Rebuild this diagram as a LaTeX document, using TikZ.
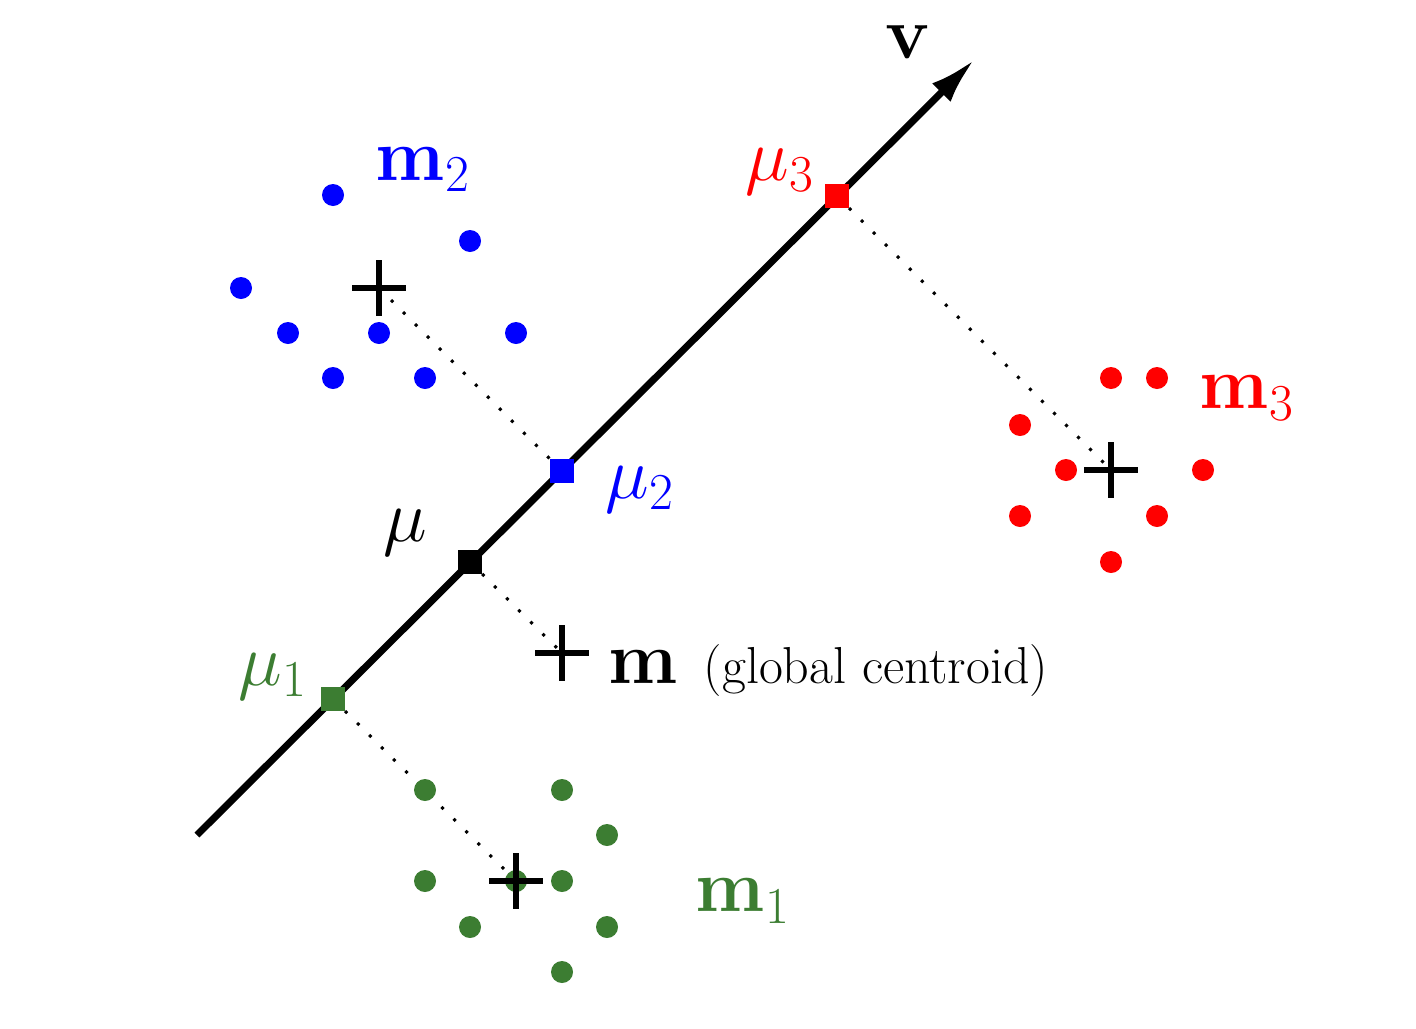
\RequirePackage{fix-cm}
\documentclass[tikz,border=0pt]{standalone}
\usepackage{amsmath}
\usetikzlibrary{arrows.meta}
\definecolor{cblue}{RGB}{0,0,255}
\definecolor{cred}{RGB}{255,0,0}
\definecolor{cgreen}{RGB}{60,125,50}
\tikzset{
  dot/.style={circle,fill=#1,inner sep=0pt,minimum size=11pt},
  sq/.style={rectangle,fill=#1,inner sep=0pt,minimum size=12pt},
  proj/.style={line width=1.5pt,dash pattern=on 1.5pt off 7pt},
  axis/.style={line width=3.5pt,-{Latex[length=23pt,width=13pt]}},
  lab/.style={inner sep=0pt,font=\fontsize{37}{42}\selectfont},
  pics/plus/.style={code={\draw[line width=3.2pt] (-27,0) -- (27,0) (0,-28) -- (0,28);}}
}
\begin{document}
\begin{tikzpicture}[x=0.5pt,y=-0.5pt]
\useasboundingbox (0,0) rectangle (1416,1028);
% axis
\coordinate (a0) at (197,835);
\coordinate (a1) at (974,60);
\draw[axis] (a0) -- (a1);
% centroids (plus)
\coordinate (c1) at (516,881);
\coordinate (c2) at (379,288);
\coordinate (c3) at (1111,470);
\coordinate (cm) at (562,653);
% projections positions
\coordinate (p1) at (333,699);
\coordinate (pm) at (470,562);
\coordinate (p2) at (562,471);
\coordinate (p3) at (837,196);
% dotted projection lines
\draw[proj] (c2) -- (p2);
\draw[proj] (p3) -- (c3);
\draw[proj] (pm) -- (cm);
\draw[proj] (p1) -- (c1);
% blue cluster
\foreach \i/\p in {1/{333,195},2/{470,241},3/{241,288},4/{288,333},5/{379,333},6/{516,333},7/{333,378},8/{425,378}}
  \node[dot=cblue] (b\i) at (\p) {};
% red cluster
\foreach \i/\p in {1/{1111,378},2/{1157,378},3/{1020,425},4/{1066,470},5/{1203,470},6/{1020,516},7/{1157,516},8/{1111,562}}
  \node[dot=cred] (r\i) at (\p) {};
% green cluster
\foreach \i/\p in {1/{425,790},2/{562,790},3/{607,835},4/{425,881},5/{516,881},6/{562,881},7/{470,927},8/{607,927},9/{562,972}}
  \node[dot=cgreen] (g\i) at (\p) {};
% plus signs
\pic at (c1) {plus};
\pic at (c2) {plus};
\pic at (c3) {plus};
\pic at (cm) {plus};
% projected squares
\node[sq=cgreen] (s1) at (p1) {};
\node[sq=black] (sm) at (pm) {};
\node[sq=cblue] (s2) at (p2) {};
\node[sq=cred] (s3) at (p3) {};
% labels
\node[lab] (lv) at (908,42) {$\mathbf{v}$};
\node[lab,text=cblue] (lm2) at (423,170) {$\mathbf{m}_2$};
\node[lab,text=cred] (lmu3) at (780,172) {$\mu_3$};
\node[lab,text=cred] (lm3) at (1247,398) {$\mathbf{m}_3$};
\node[lab,text=cblue] (lmu2) at (640,490) {$\mu_2$};
\node[lab] (lmu) at (405,533) {$\mu$};
\node[lab,text=cgreen] (lmu1) at (273,677) {$\mu_1$};
\node[lab,text=cgreen] (lm1) at (743,901) {$\mathbf{m}_1$};
\node[lab,anchor=base west] (lm) at (608,683) {$\mathbf{m}$\hspace{13pt}{\fontsize{26}{30}\selectfont(global centroid)}};
\end{tikzpicture}
\end{document}
